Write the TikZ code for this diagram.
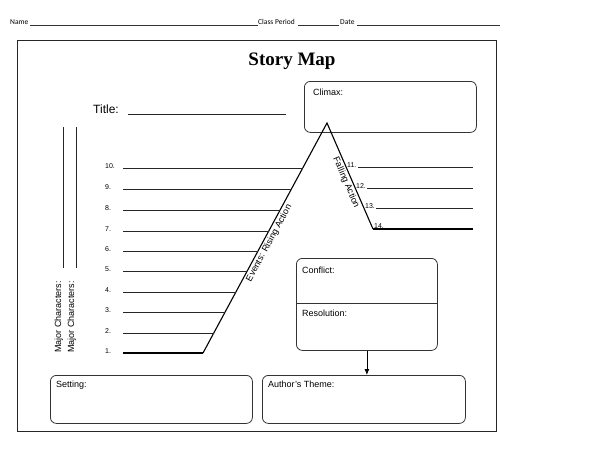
\documentclass[tikz,border=0pt]{standalone}
\usepackage{fontspec}
\setmainfont{Liberation Sans}
\newfontfamily\mapfont{Liberation Serif}
\newfontfamily\headfont{Carlito}
\usetikzlibrary{arrows.meta}

\tikzset{
  box/.style={draw=black!80, line width=0.8pt, rounded corners=6pt, inner sep=0pt, anchor=north west},
  lbl/.style={anchor=base west, inner sep=0pt, font=\fontsize{9}{10}\selectfont},
  num/.style={anchor=base west, inner sep=0pt, font=\fontsize{7}{8}\selectfont},
  head/.style={anchor=base west, inner sep=0pt, font=\headfont\fontsize{7.5}{8}\selectfont},
  wline/.style={line width=0.7pt, black!85},
  hline/.style={line width=0.5pt, black!80},
  plotline/.style={line width=1.1pt},
  baseline/.style={line width=1.7pt},
}

\begin{document}
\begin{tikzpicture}[x=1pt, y=-1pt]
  \useasboundingbox (0,0) rectangle (591,450);

  % header
  \node[head] (name) at (10,24) {Name};
  \node[head] (period) at (258,24) {Class Period};
  \node[head] (date) at (340,24) {Date};
  \draw[hline] (30,25) -- (258,25);
  \draw[hline] (298,25) -- (339,25);
  \draw[hline] (357,25) -- (500,25);

  % frame and heading
  \draw[line width=1pt, black!85] (17,40) rectangle (496,431);
  \node[anchor=base, font=\mapfont\bfseries\fontsize{19}{22}\selectfont] (smap) at (292,65) {Story Map};

  \node[anchor=base west, inner sep=0pt, font=\fontsize{12}{14}\selectfont] (title) at (93,113) {Title:};
  \draw[wline] (128,114) -- (286,114);

  % climax box
  \node[box, minimum width=172pt, minimum height=51pt] (climax) at (304,81) {};
  \node[lbl] (climaxl) at (313,95) {Climax:};

  % plot line
  \coordinate (rb) at (203,353);
  \coordinate (peak) at (327,123);
  \coordinate (fb) at (373,229);

  \draw[plotline] (rb) -- node[sloped, below, pos=0.49, inner sep=1.5pt, font=\fontsize{9}{10}\selectfont] (rising) {Events: Rising Action} (peak)
    -- node[sloped, below, pos=0.54, inner sep=1.5pt, font=\fontsize{9}{10}\selectfont] (falling) {Falling Action} (fb);
  \draw[baseline] (123,353) -- (rb);
  \draw[baseline] (fb) -- (473,229);

  % rising action events
  \node[num] (e10) at (105,168) {10.};
  \node[num] (e9) at (105,189) {9.};
  \node[num] (e8) at (105,210) {8.};
  \node[num] (e7) at (105,231) {7.};
  \node[num] (e6) at (105,251) {6.};
  \node[num] (e5) at (105,271) {5.};
  \node[num] (e4) at (105,292) {4.};
  \node[num] (e3) at (105,312) {3.};
  \node[num] (e2) at (105,333) {2.};
  \node[num] (e1) at (105,353) {1.};

  \draw[wline] (123,168) -- (303,168);
  \draw[wline] (123,189) -- (291.5,189);
  \draw[wline] (123,210) -- (280,210);
  \draw[wline] (123,231) -- (269,231);
  \draw[wline] (123,251) -- (258,251);
  \draw[wline] (123,271) -- (247,271);
  \draw[wline] (123,292) -- (236,292);
  \draw[wline] (123,312) -- (225,312);
  \draw[wline] (123,333) -- (214,333);

  % falling action events
  \node[num] (f11) at (347,167) {11.};
  \node[num] (f12) at (356,188) {12.};
  \node[num] (f13) at (365,208) {13.};
  \node[num] (f14) at (374,228) {14.};

  \draw[wline] (358,167) -- (473,167);
  \draw[wline] (367,188) -- (473,188);
  \draw[wline] (376,208) -- (473,208);

  % major characters
  \node[lbl, rotate=90] (mc1) at (61,353) {Major Characters:};
  \node[lbl, rotate=90] (mc2) at (74,353) {Major Characters:};
  \draw[wline] (63,127) -- (63,268);
  \draw[wline] (76,127) -- (76,268);

  % conflict and resolution
  \node[box, minimum width=141pt, minimum height=92pt] (conres) at (296,258) {};
  \draw[line width=0.8pt, black!80] (conres.west |- 0,303) -- (conres.east |- 0,303);
  \node[lbl] (conflict) at (302,273) {Conflict:};
  \node[lbl] (resolution) at (302,316) {Resolution:};

  % setting and theme
  \node[box, minimum width=202pt, minimum height=48pt] (setting) at (50,375) {};
  \node[box, minimum width=203pt, minimum height=48pt] (theme) at (262,375) {};
  \node[lbl] (settingl) at (56,387) {Setting:};
  \node[lbl] (themel) at (268,387) {Author's Theme:};

  \draw[-{Latex[length=6pt, width=5pt]}, line width=0.8pt] (conres.south) -- (conres.south |- theme.north);

\end{tikzpicture}
\end{document}
